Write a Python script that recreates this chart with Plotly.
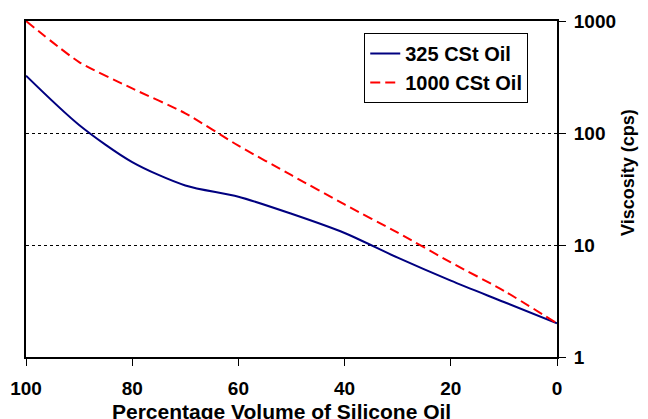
import plotly.graph_objects as go

pct = [100, 90, 80, 70, 60, 50, 40, 30, 20, 10, 0]
visc_325 = [325, 118, 55, 34, 27, 19, 12.8, 7.7, 4.8, 3.1, 2.0]
visc_1000 = [1000, 430, 250, 150, 77, 42, 23, 12.9, 7.0, 3.9, 2.0]
y_ticks = [1, 10, 100, 1000]
x_ticks = [100, 80, 60, 40, 20, 0]

font_fam = "Arial, Liberation Sans, sans-serif"
bold = dict(family=font_fam, weight="bold", color="black")

fig = go.Figure()
fig.add_trace(go.Scatter(x=pct, y=visc_325, mode="lines", name="325 CSt Oil",
                         line=dict(color="#000080", width=2, shape="spline", smoothing=0.8)))
fig.add_trace(go.Scatter(x=pct, y=visc_1000, mode="lines", name="1000 CSt Oil",
                         line=dict(color="#FF0000", width=2, dash="10px,5px", shape="spline", smoothing=0.6)))

fig.update_layout(
    width=640, height=411,
    margin=dict(l=18, r=91, t=13, b=62),
    paper_bgcolor="white", plot_bgcolor="white",
    font=dict(family=font_fam, color="black"),
    showlegend=True,
    legend=dict(x=0.637, y=0.964, xanchor="left", yanchor="top",
                bordercolor="black", borderwidth=1, bgcolor="white",
                font=dict(size=20, **bold),
                tracegroupgap=0, itemwidth=30),
    xaxis=dict(range=[100, 0], tickvals=x_ticks, ticks="outside", ticklen=7,
               tickcolor="black", tickwidth=1, automargin=False, ticklabelstandoff=6,
               showline=True, linecolor="black", linewidth=2, mirror=True,
               showgrid=False, zeroline=False,
               tickfont=dict(size=19, **bold)),
    yaxis=dict(type="log", range=[0, 3], side="right", tickvals=y_ticks,
               ticktext=[str(v) for v in y_ticks], ticks="outside", ticklen=7,
               tickcolor="black", tickwidth=1, ticklabelstandoff=4, automargin=False,
               showline=True, linecolor="black", linewidth=2, mirror=True,
               showgrid=True, gridcolor="black", griddash="dot", gridwidth=1,
               zeroline=False,
               tickfont=dict(size=19, **bold)),
    annotations=[
        dict(text="Percentage Volume of Silicone Oil", xref="paper", yref="paper",
             x=0.482, y=-0.122, xanchor="center", yanchor="top", showarrow=False,
             font=dict(size=21, **bold)),
        dict(text="Viscosity (cps)", xref="paper", yref="paper",
             x=1.134, y=0.548, xanchor="center", yanchor="middle", showarrow=False,
             textangle=-90, font=dict(size=18, **bold)),
    ],
)

fig.write_html("out.html", post_script="document.body.style.overflow='hidden';")
